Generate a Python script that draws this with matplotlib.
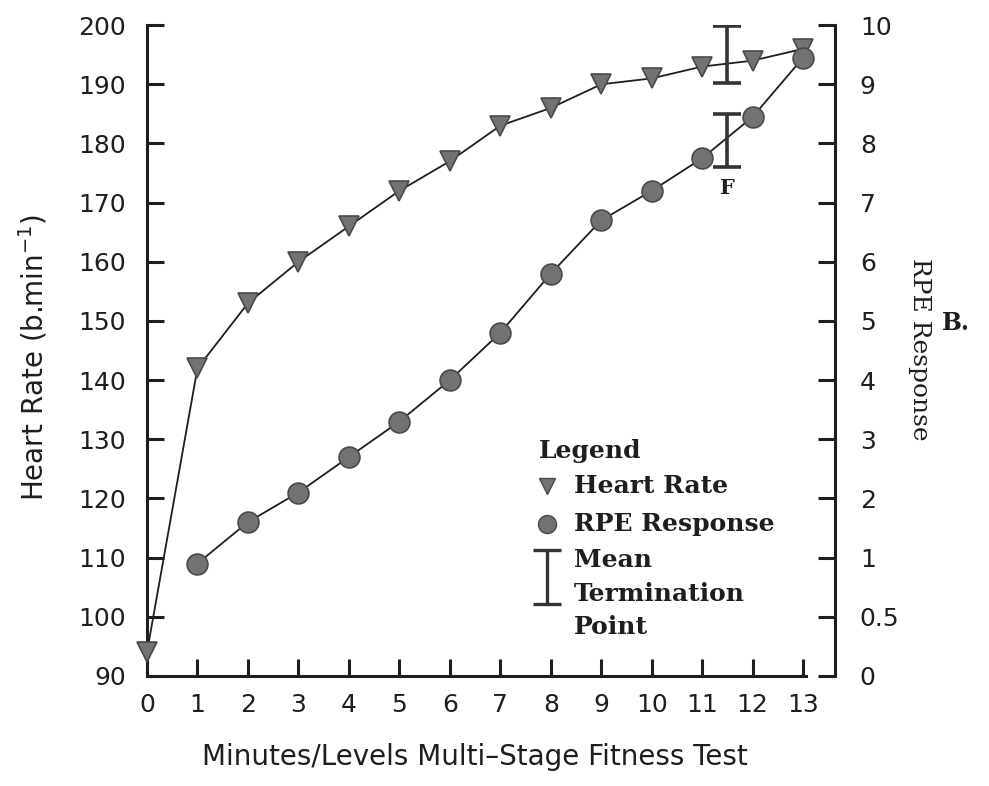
import numpy as np
import matplotlib
matplotlib.use("Agg")
import matplotlib.pyplot as plt

# data
minutes = [0, 1, 2, 3, 4, 5, 6, 7, 8, 9, 10, 11, 12, 13]
heart_rate = [94, 142, 153, 160, 166, 172, 177, 183, 186, 190, 191, 193, 194, 196]
rpe_minutes = [1, 2, 3, 4, 5, 6, 7, 8, 9, 10, 11, 12, 13]
rpe = [0.95, 1.6, 2.1, 2.7, 3.3, 4.0, 4.8, 5.8, 6.7, 7.2, 7.75, 8.45, 9.45]

# mean termination point (x, centre, half range)
term_x = 11.5
hr_term, hr_term_err = 195, 4.8
rpe_term, rpe_term_err = 8.05, 0.45

hr_ticks = list(range(90, 201, 10))
rpe_ticks = [0, 0.5, 1, 2, 3, 4, 5, 6, 7, 8, 9, 10]
rpe_tick_labels = ["0", "0.5", "1", "2", "3", "4", "5", "6", "7", "8", "9", "10"]
# the RPE axis is printed against the heart-rate grid: 0->90, 0.5->100, 1->110 ... 10->200
rpe_knots = [0, 0.5, 1, 10]
hr_knots = [90, 100, 110, 200]

legend_labels = ["Heart Rate", "RPE Response", "Mean\nTermination\nPoint"]

face = "#727272"
edge = "#4a4a4a"
ink = "#1e1e1e"

fig = plt.figure(figsize=(9.89, 7.86), dpi=100)
ax = fig.add_axes([0.1486, 0.140, 0.666, 0.828])

ax.plot(minutes, heart_rate, color=ink, lw=1.3, marker="v", ms=14,
        mfc=face, mec=edge, mew=1.2, zorder=3, clip_on=False)
ax.errorbar([term_x], [hr_term], yerr=[hr_term_err], fmt="none",
            ecolor="#333333", elinewidth=2.6, capsize=10, capthick=2.6, zorder=4)

ax.set_xlim(0, 13.05)
ax.set_ylim(90, 200)
ax.set_xticks(minutes)
ax.set_yticks(hr_ticks)
ax.spines["top"].set_visible(False)
ax.spines["right"].set_visible(False)
for s in ["left", "bottom"]:
    ax.spines[s].set_linewidth(2.2)
    ax.spines[s].set_color(ink)
ax.tick_params(axis="both", direction="in", length=12, width=2.2, color=ink,
               labelsize=18, labelcolor=ink)
ax.tick_params(axis="y", pad=15)
ax.tick_params(axis="x", pad=12)

ax.set_ylabel("Heart Rate (b.min$^{-1}$)", fontsize=20, color=ink, va="center")
ax.yaxis.set_label_coords(-0.173, 0.49)
ax.set_xlabel("Minutes/Levels Multi\u2013Stage Fitness Test", fontsize=20, color=ink,
              va="center")
ax.xaxis.set_label_coords(0.498, -0.124)

# right axis for RPE
ax2 = ax.twinx()
fwd = lambda r: np.interp(r, rpe_knots, hr_knots)
inv = lambda h: np.interp(h, hr_knots, rpe_knots)
ax2.set_yscale("function", functions=(fwd, inv))
ax2.set_ylim(0, 10)
ax2.set_yticks(rpe_ticks)
ax2.set_yticklabels(rpe_tick_labels)
ax2.yaxis.set_minor_locator(matplotlib.ticker.NullLocator())

ax2.plot(rpe_minutes, rpe, color=ink, lw=1.3, marker="o", ms=15,
         mfc=face, mec=edge, mew=1.2, zorder=3, clip_on=False)
ax2.errorbar([term_x], [rpe_term], yerr=[rpe_term_err], fmt="none",
             ecolor="#333333", elinewidth=2.6, capsize=10, capthick=2.6, zorder=4)
ax2.annotate("F", xy=(term_x, rpe_term - rpe_term_err), xytext=(0, -15),
             textcoords="offset points", ha="center", va="center",
             fontsize=15, fontweight="bold", family="DejaVu Serif", color=ink)

for s in ["top", "left", "bottom"]:
    ax2.spines[s].set_visible(False)
ax2.spines["right"].set_position(("outward", 21))
ax2.spines["right"].set_linewidth(2.2)
ax2.spines["right"].set_color(ink)
ax2.tick_params(axis="y", direction="in", length=12, width=2.2, color=ink,
                labelsize=18, labelcolor=ink, pad=18)
ax2.set_ylabel("RPE Response", rotation=270, fontsize=18, family="DejaVu Serif",
               color=ink, va="center")
ax2.yaxis.set_label_coords(1.173, 0.502)

fig.text(0.967, 0.589, "B.", fontsize=17, fontweight="bold", family="DejaVu Serif",
         color=ink, ha="center", va="center")

# hand-drawn legend block
lt = ax.transAxes
serif = dict(fontsize=18, fontweight="bold", family="DejaVu Serif", color=ink)
ax.text(0.595, 0.345, "Legend", ha="left", va="center", transform=lt, **serif)
ax.plot([0.608], [0.292], marker="v", ms=12, mfc=face, mec=edge, transform=lt,
        clip_on=False)
ax.text(0.648, 0.292, legend_labels[0], ha="left", va="center", transform=lt, **serif)
ax.plot([0.608], [0.233], marker="o", ms=13, mfc=face, mec=edge, transform=lt,
        clip_on=False)
ax.text(0.648, 0.233, legend_labels[1], ha="left", va="center", transform=lt, **serif)
ax.errorbar([0.608], [0.152], yerr=[0.042], fmt="none", ecolor="#333333",
            elinewidth=2.4, capsize=10, capthick=2.4, transform=lt, clip_on=False)
ax.text(0.648, 0.196, legend_labels[2], ha="left", va="top", transform=lt,
        linespacing=1.5, **serif)

fig.savefig("out.png", dpi=100)
